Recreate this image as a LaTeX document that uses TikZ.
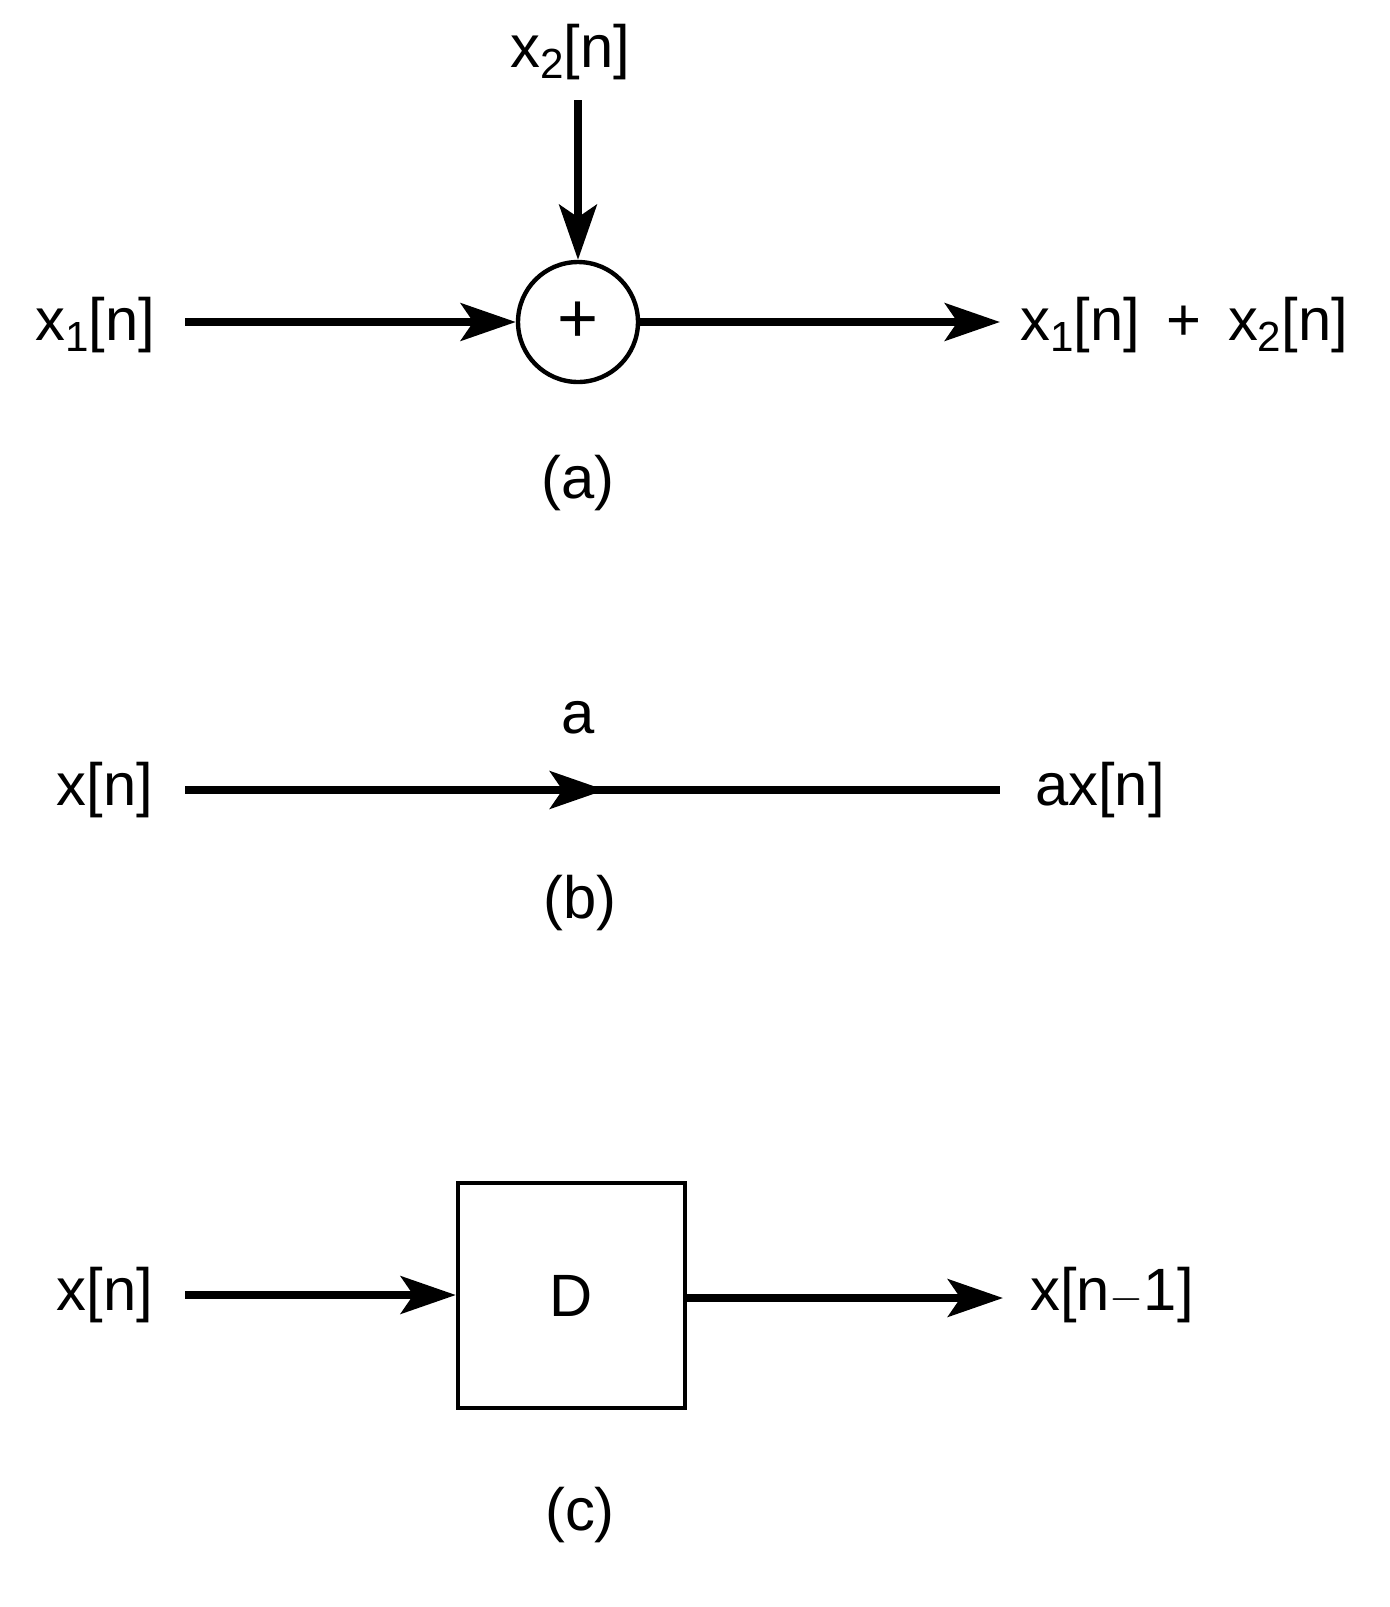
\documentclass[tikz,border=0pt]{standalone}
\usepackage{fontspec}
\setmainfont{Liberation Sans}
\usetikzlibrary{arrows.meta}
\newcommand{\sbs}[1]{\raisebox{-0.35ex}{\fontsize{24}{28}\selectfont #1}}
\begin{document}
\begin{tikzpicture}[x=0.02cm,y=-0.02cm,
  lbl/.style={font=\fontsize{34}{40}\selectfont,inner sep=0pt},
  sig/.style={line width=4.5pt,-{Stealth[length=1.1cm,width=0.75cm,inset=0.25cm]}},
  bar/.style={line width=4.5pt}]
\useasboundingbox (0,0) rectangle (1390,1607);
% (a)
\node[lbl] (x1) at (95,325) {x\sbs{1}[n]};
\node[draw,circle,line width=2.5pt,minimum size=2.4cm,inner sep=0pt,font=\fontsize{40}{44}\selectfont] (add) at (578,322) {+};
\node[lbl] (x2) at (570,52) {x\sbs{2}[n]};
\node[lbl,anchor=west] (sum) at (1020,325) {x\sbs{1}[n] \,+\, x\sbs{2}[n]};
\coordinate (x1s) at (185,322);
\coordinate (x2s) at (578,100);
\coordinate (sume) at (1000,322);
\draw[sig] (x1s) -- (add.west);
\draw[sig] (x2s) -- (add.north);
\draw[sig] (add.east) -- (sume);
\node[lbl] (capa) at (578,483) {(a)};
% (b)
\node[lbl] (ga) at (578,718) {a};
\node[lbl] (xb) at (105,790) {x[n]};
\node[lbl] (axb) at (1100,790) {ax[n]};
\coordinate (bs) at (185,790);
\coordinate (bm) at (605,790);
\coordinate (be) at (1000,790);
\draw[bar] (bs) -- (be);
\draw[sig] (bs) -- (bm);
\node[lbl] (capb) at (580,903) {(b)};
% (c)
\node[draw,line width=2.5pt,minimum width=4.54cm,minimum height=4.5cm,font=\fontsize{34}{40}\selectfont] (D) at (571.5,1295.5) {D};
\node[lbl] (xc) at (105,1295) {x[n]};
\node[lbl] (xo) at (1112,1295) {x[n$-$1]};
\coordinate (cs) at (185,1295);
\coordinate (ce) at (1003,1298);
\draw[sig] (cs) -- (D.west |- cs);
\draw[sig] (D.east |- ce) -- (ce);
\node[lbl] (capc) at (580,1515) {(c)};
\end{tikzpicture}
\end{document}
